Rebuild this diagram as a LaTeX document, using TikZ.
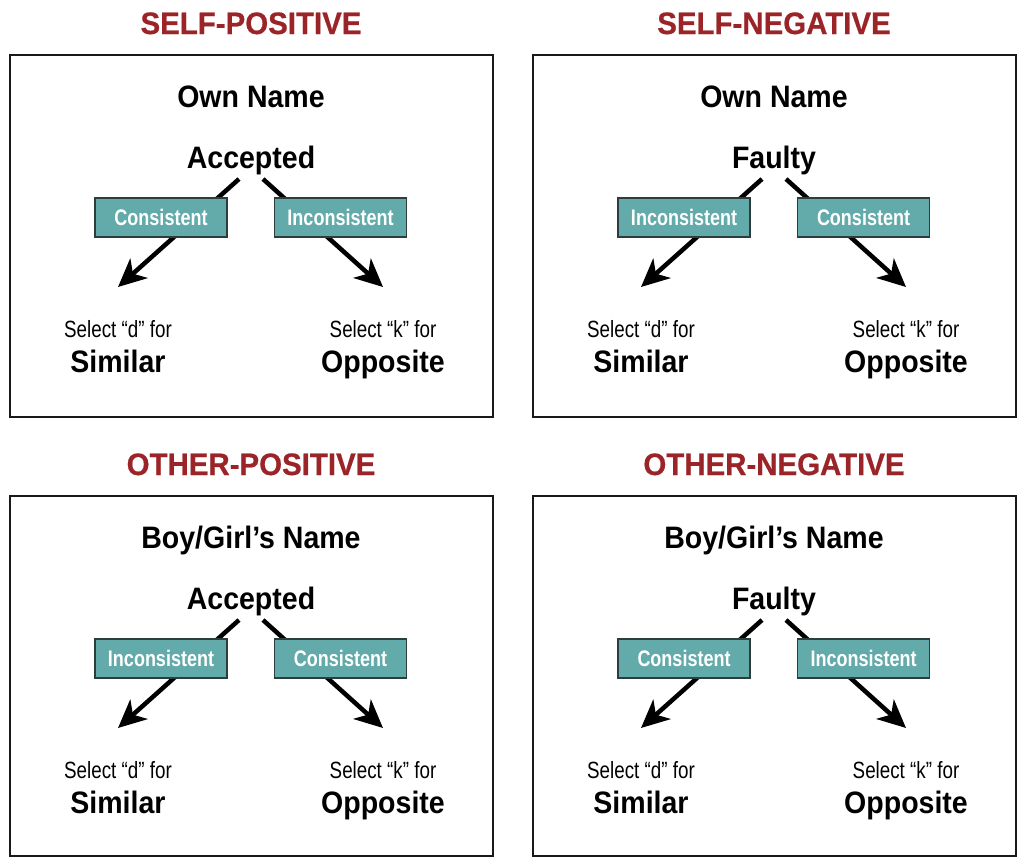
\documentclass[tikz,border=0pt]{standalone}
\usepackage{fontspec}
\setmainfont{Liberation Sans}
\newfontfamily\headfont[FakeStretch=0.92]{Liberation Sans}
\newfontfamily\titlefont[FakeStretch=0.95,FakeBold=0.6]{Liberation Sans Bold}
\newfontfamily\condfont[FakeStretch=0.8]{Liberation Sans}
\usepackage{xcolor}
\usetikzlibrary{positioning,backgrounds,arrows.meta}
\definecolor{titlered}{RGB}{155,36,40}
\definecolor{tealbox}{RGB}{99,170,170}
\definecolor{tealline}{RGB}{45,60,60}

\begin{document}
\begin{tikzpicture}[x=1pt,y=-1pt]
      \tikzstyle{panel} = [line width=2.5pt,draw=black!90]
      \tikzstyle{head} = [anchor=base,text=titlered,
      font=\titlefont\fontsize{31}{31}\selectfont]
      \tikzstyle{big} = [anchor=base,
      font=\headfont\bfseries\fontsize{31}{31}\selectfont]
      \tikzstyle{small} = [anchor=base,
      font=\condfont\fontsize{23.5}{24}\selectfont]
      \tikzstyle{tag} = [draw=tealline,line width=1.2pt,fill=tealbox,
      text=white,minimum width=132pt,minimum height=39pt,inner sep=0pt,
      font=\condfont\bfseries\fontsize{22.5}{22}\selectfont]
      \tikzstyle{arr} = [line width=4.5pt,
      -{Stealth[length=28pt,width=26pt,inset=8pt]}]
      \useasboundingbox (0,0) rectangle (1021,857);
      % SELF-POSITIVE
      \begin{scope}
        \node[head] (sp-title) at (251,34) {SELF-POSITIVE};
        \draw[panel] (10,55) rectangle (493,417);
        \node[big] (sp-name) at (251,107) {Own Name};
        \node[big] (sp-val) at (251,168) {Accepted};
        \node[tag] (sp-left) at (161,217.5) {Consistent};
        \node[tag] (sp-right) at (340.5,217.5) {Inconsistent};
        \coordinate (sp-ls) at (239,179); \coordinate (sp-lt) at (118,287);
        \coordinate (sp-rs) at (263,179); \coordinate (sp-rt) at (383,287);
        \node[small] (sp-seld) at (118,337) {Select “d” for};
        \node[big] (sp-sim) at (118,372) {Similar};
        \node[small] (sp-selk) at (383,337) {Select “k” for};
        \node[big] (sp-opp) at (383,372) {Opposite};
        \begin{pgfonlayer}{background}
          \draw[arr] (sp-ls) -- (sp-lt);
          \draw[arr] (sp-rs) -- (sp-rt);
        \end{pgfonlayer}
      \end{scope}
      % SELF-NEGATIVE
      \begin{scope}[shift={(523,0)}]
        \node[head] (sn-title) at (251,34) {SELF-NEGATIVE};
        \draw[panel] (10,55) rectangle (493,417);
        \node[big] (sn-name) at (251,107) {Own Name};
        \node[big] (sn-val) at (251,168) {Faulty};
        \node[tag] (sn-left) at (161,217.5) {Inconsistent};
        \node[tag] (sn-right) at (340.5,217.5) {Consistent};
        \coordinate (sn-ls) at (239,179); \coordinate (sn-lt) at (118,287);
        \coordinate (sn-rs) at (263,179); \coordinate (sn-rt) at (383,287);
        \node[small] (sn-seld) at (118,337) {Select “d” for};
        \node[big] (sn-sim) at (118,372) {Similar};
        \node[small] (sn-selk) at (383,337) {Select “k” for};
        \node[big] (sn-opp) at (383,372) {Opposite};
        \begin{pgfonlayer}{background}
          \draw[arr] (sn-ls) -- (sn-lt);
          \draw[arr] (sn-rs) -- (sn-rt);
        \end{pgfonlayer}
      \end{scope}
      % OTHER-POSITIVE
      \begin{scope}[shift={(0,441)}]
        \node[head] (op-title) at (251,34) {OTHER-POSITIVE};
        \draw[panel] (10,55) rectangle (493,415);
        \node[big] (op-name) at (251,107) {Boy/Girl’s Name};
        \node[big] (op-val) at (251,168) {Accepted};
        \node[tag] (op-left) at (161,217.5) {Inconsistent};
        \node[tag] (op-right) at (340.5,217.5) {Consistent};
        \coordinate (op-ls) at (239,179); \coordinate (op-lt) at (118,287);
        \coordinate (op-rs) at (263,179); \coordinate (op-rt) at (383,287);
        \node[small] (op-seld) at (118,337) {Select “d” for};
        \node[big] (op-sim) at (118,372) {Similar};
        \node[small] (op-selk) at (383,337) {Select “k” for};
        \node[big] (op-opp) at (383,372) {Opposite};
        \begin{pgfonlayer}{background}
          \draw[arr] (op-ls) -- (op-lt);
          \draw[arr] (op-rs) -- (op-rt);
        \end{pgfonlayer}
      \end{scope}
      % OTHER-NEGATIVE
      \begin{scope}[shift={(523,441)}]
        \node[head] (on-title) at (251,34) {OTHER-NEGATIVE};
        \draw[panel] (10,55) rectangle (493,415);
        \node[big] (on-name) at (251,107) {Boy/Girl’s Name};
        \node[big] (on-val) at (251,168) {Faulty};
        \node[tag] (on-left) at (161,217.5) {Consistent};
        \node[tag] (on-right) at (340.5,217.5) {Inconsistent};
        \coordinate (on-ls) at (239,179); \coordinate (on-lt) at (118,287);
        \coordinate (on-rs) at (263,179); \coordinate (on-rt) at (383,287);
        \node[small] (on-seld) at (118,337) {Select “d” for};
        \node[big] (on-sim) at (118,372) {Similar};
        \node[small] (on-selk) at (383,337) {Select “k” for};
        \node[big] (on-opp) at (383,372) {Opposite};
        \begin{pgfonlayer}{background}
          \draw[arr] (on-ls) -- (on-lt);
          \draw[arr] (on-rs) -- (on-rt);
        \end{pgfonlayer}
      \end{scope}
\end{tikzpicture}
\end{document}
